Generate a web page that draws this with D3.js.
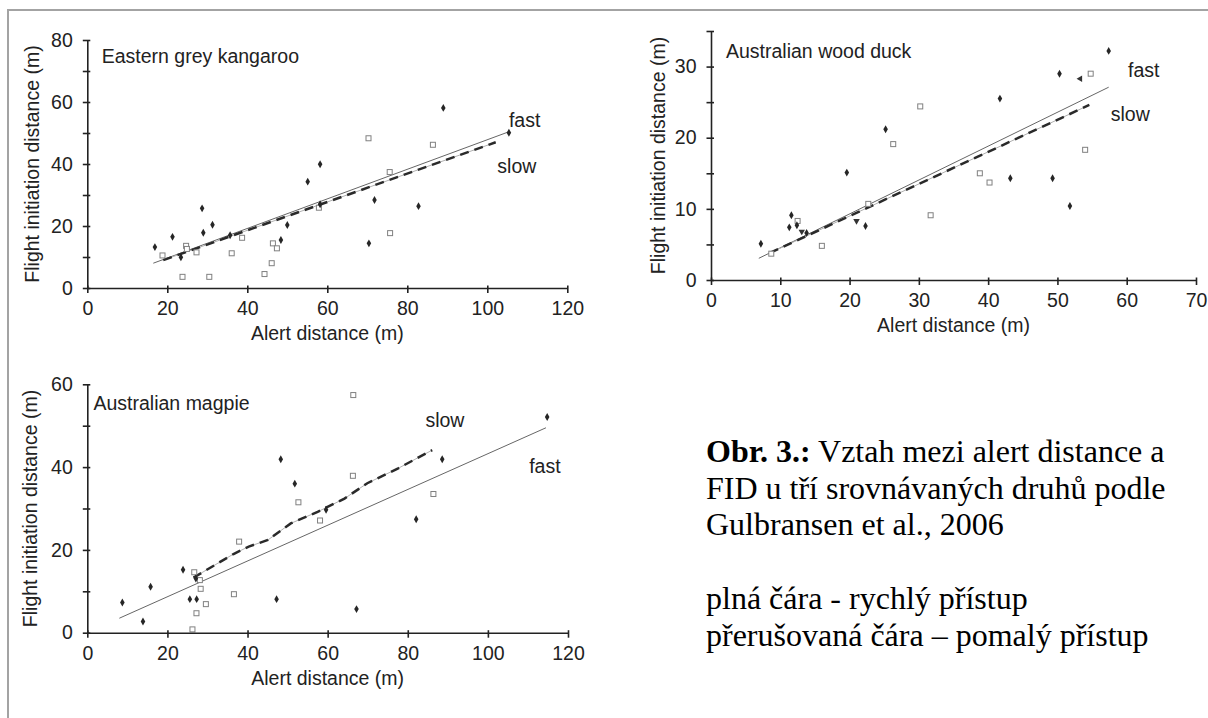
<!DOCTYPE html>
<html><head><meta charset="utf-8">
<script src="https://cdn.jsdelivr.net/npm/d3@7"></script>
<style>html,body{margin:0;padding:0;background:#fff;} svg{display:block;}</style>
</head><body>
<svg id="c" width="1208" height="718"></svg>
<script>
// ---------- DATA ----------
// Eastern grey kangaroo
const kangarooXTicks = [0, 20, 40, 60, 80, 100, 120];
const kangarooYTicks = [0, 20, 40, 60, 80];
const kangarooYMinor = [0, 10, 20, 30, 40, 50, 60, 70, 80];
const kangarooFast = [[16.9,13.2],[21.3,16.5],[23.4,9.9],[28.7,25.7],[29.0,17.8],[31.3,20.4],[35.7,17.0],[48.4,15.5],[50.0,20.3],[55.1,34.3],[58.2,39.9],[58.2,27.0],[70.4,14.4],[71.8,28.4],[82.8,26.4],[89.0,58.1],[105.4,50.1]];
const kangarooSlow = [[18.8,10.5],[23.8,3.6],[24.7,13.6],[24.9,12.6],[27.3,11.5],[30.5,3.6],[36.1,11.2],[38.7,16.2],[44.3,4.5],[46.1,8.0],[46.4,14.4],[47.4,12.8],[57.9,25.9],[70.3,48.3],[75.6,37.4],[75.7,17.7],[86.4,46.2]];
const kangarooFastLine = [[16.5,8.0],[105.4,50.4]];
const kangarooSlowLine = [[19.0,9.0],[102.1,47.0]];

// Australian wood duck
const duckXTicks = [0, 10, 20, 30, 40, 50, 60, 70];
const duckYTicks = [0, 10, 20, 30];
const duckYMinor = [0, 5, 10, 15, 20, 25, 30, 35];
const duckFast = [[7.2,5.1],[11.3,7.4],[11.6,9.1],[12.4,7.7],[13.8,6.6],[19.6,15.1],[22.3,7.6],[25.2,21.2],[41.7,25.5],[43.2,14.3],[49.3,14.3],[50.3,29.0],[51.8,10.4],[57.4,32.2]];
const duckTriangles = [[13.1,6.8],[21.0,8.3],[53.3,28.3]];
const duckSlow = [[8.7,3.7],[12.5,8.3],[16.0,4.8],[22.7,10.7],[26.3,19.1],[30.2,24.4],[31.7,9.1],[38.8,15.0],[40.2,13.7],[54.0,18.3],[54.8,29.0]];
const duckFastLine = [[6.9,3.05],[57.4,27.1]];
const duckSlowLine = [[8.5,3.8],[54.6,24.6]];

// Australian magpie
const magpieXTicks = [0, 20, 40, 60, 80, 100, 120];
const magpieYTicks = [0, 20, 40, 60];
const magpieYMinor = [0, 10, 20, 30, 40, 50, 60];
const magpieFast = [[8.75,7.3],[13.9,2.7],[15.8,11.1],[23.9,15.2],[25.6,8.1],[27.3,8.1],[27.1,13.1],[47.25,8.1],[48.3,41.9],[51.8,36.0],[59.6,29.7],[67.2,5.7],[82.1,27.4],[88.6,41.9],[114.8,52.1]];
const magpieSlow = [[26.25,0.8],[26.7,14.6],[27.25,4.7],[28.1,12.7],[28.3,10.6],[29.6,6.9],[36.6,9.3],[37.9,22.0],[52.7,31.5],[58.1,27.1],[66.3,37.9],[66.4,57.4],[86.4,33.5]];
const magpieFastLine = [[8.0,3.5],[114.5,49.5]];
const magpieSlowLine = [[26.5,13.3],[36.5,19.0],[40.3,20.8],[45.1,22.4],[50.8,26.4],[57.5,29.2],[64.2,32.4],[69.9,36.1],[77.6,39.7],[86.1,44.1]];

// Text
const xTitle = "Alert distance (m)";
const yTitle = "Flight initiation distance (m)";
const captionLines = [
  ["Obr. 3.:", " Vztah mezi alert distance a"],
  ["", "FID u tří srovnávaných druhů podle"],
  ["", "Gulbransen et al., 2006"],
  ["", ""],
  ["", "plná čára - rychlý přístup"],
  ["", "přerušovaná čára – pomalý přístup"]
];

// ---------- DRAW ----------
const svg = d3.select("#c");
const SANS = "'Liberation Sans', Arial, Helvetica, sans-serif";
const SERIF = "'Liberation Serif', 'Times New Roman', serif";

svg.append("rect").attr("width",1208).attr("height",718).attr("fill","#fff");
// frame (partially visible)
svg.append("path").attr("d","M8,718V10H1208").attr("fill","none").attr("stroke","#a3a3a3").attr("stroke-width",2);

const panels = [
  {name:"Eastern grey kangaroo", left:87.3, right:567.3, top:40, bottom:288, xMax:120, yMax:80,
   xTicks:kangarooXTicks, yTicks:kangarooYTicks, yMinor:kangarooYMinor,
   fast:kangarooFast, slow:kangarooSlow, tri:[], fastLine:kangarooFastLine, slowLine:kangarooSlowLine,
   titleX:101.7, titleY:62.7, yTitleX:32.5,
   labels:[{t:"fast",x:105.4,y:52.0},{t:"slow",x:102.5,y:37.0}]},
  {name:"Australian wood duck", left:711, right:1196, top:31, bottom:280, xMax:70, yMax:35,
   xTicks:duckXTicks, yTicks:duckYTicks, yMinor:duckYMinor,
   fast:duckFast, slow:duckSlow, tri:duckTriangles, fastLine:duckFastLine, slowLine:duckSlowLine,
   titleX:726, titleY:58.3, yTitleX:658,
   labels:[{t:"fast",x:60.2,y:28.6},{t:"slow",x:57.7,y:22.4}]},
  {name:"Australian magpie", left:87.3, right:568, top:384.3, bottom:632.7, xMax:120, yMax:60,
   xTicks:magpieXTicks, yTicks:magpieYTicks, yMinor:magpieYMinor,
   fast:magpieFast, slow:magpieSlow, tri:[], fastLine:magpieFastLine, slowLine:magpieSlowLine,
   titleX:93.5, titleY:410, yTitleX:30.6,
   labels:[{t:"slow",x:84.4,y:49.8},{t:"fast",x:110.3,y:38.6}]}
];

const FS = 19.5;
panels.forEach(p => {
  const x = d3.scaleLinear().domain([0,p.xMax]).range([p.left,p.right]);
  const y = d3.scaleLinear().domain([0,p.yMax]).range([p.bottom,p.top]);
  const g = svg.append("g");

  // fast (solid) line
  g.append("path").datum(p.fastLine)
    .attr("d", d3.line().x(d=>x(d[0])).y(d=>y(d[1])))
    .attr("fill","none").attr("stroke","#666").attr("stroke-width",1);
  // slow (dashed) line: thin light base + dark dashes
  g.append("path").datum(p.slowLine)
    .attr("d", d3.line().x(d=>x(d[0])).y(d=>y(d[1])))
    .attr("fill","none").attr("stroke","#b0b0b0").attr("stroke-width",1);
  g.append("path").datum(p.slowLine)
    .attr("d", d3.line().x(d=>x(d[0])).y(d=>y(d[1])))
    .attr("fill","none").attr("stroke","#2a2a2a").attr("stroke-width",2.5)
    .attr("stroke-dasharray","9,6");

  // open squares (slow)
  g.selectAll("rect.sq").data(p.slow).join("rect").attr("class","sq")
    .attr("x",d=>x(d[0])-2.5).attr("y",d=>y(d[1])-2.5)
    .attr("width",5).attr("height",5)
    .attr("fill","#fff").attr("stroke","#808080").attr("stroke-width",1);
  // filled markers (fast)
  g.selectAll("path.fd").data(p.fast).join("path").attr("class","fd")
    .attr("transform",d=>`translate(${x(d[0])},${y(d[1])})`)
    .attr("d", d3.symbol(d3.symbolDiamond, 18))
    .attr("fill","#262626");
  g.selectAll("path.tr").data(p.tri).join("path").attr("class","tr")
    .attr("transform",(d,i)=>`translate(${x(d[0])},${y(d[1])}) rotate(${i===2?-90:180})`)
    .attr("d", d3.symbol(d3.symbolTriangle, 18))
    .attr("fill","#333");

  // axes
  const ax = d3.axisBottom(x).tickValues(p.xTicks).tickSizeInner(5).tickSizeOuter(0).tickPadding(8);
  const gx = svg.append("g").attr("transform",`translate(0,${p.bottom})`).call(ax);
  gx.selectAll(".tick line").attr("y1",-2.5);
  const ay = d3.axisLeft(y).tickValues(p.yMinor).tickSizeInner(4.5).tickSizeOuter(0).tickPadding(10)
    .tickFormat(d => p.yTicks.includes(d) ? d : "");
  const gy = svg.append("g").attr("transform",`translate(${p.left},0)`).call(ay);
  gy.selectAll(".tick line").attr("x1",3);
  [gx,gy].forEach(a => {
    a.select(".domain").attr("stroke","#222").attr("stroke-width",1.6);
    a.selectAll(".tick line").attr("stroke","#222").attr("stroke-width",1.6);
    a.selectAll(".tick text").attr("font-family",SANS).attr("font-size",FS).attr("fill","#222");
  });

  // titles
  svg.append("text").attr("x",(p.left+p.right)/2).attr("y",p.bottom+52)
    .attr("text-anchor","middle").attr("font-family",SANS).attr("font-size",FS).attr("fill","#222").text(xTitle);
  svg.append("text").attr("transform",`translate(${p.yTitleX},${(p.top+p.bottom)/2}) rotate(-90)`)
    .attr("dy","0.35em").attr("text-anchor","middle").attr("font-family",SANS).attr("font-size",FS).attr("fill","#222").text(yTitle);
  svg.append("text").attr("x",p.titleX).attr("y",p.titleY)
    .attr("font-family",SANS).attr("font-size",FS).attr("fill","#222").text(p.name);
  p.labels.forEach(l => {
    svg.append("text").attr("x",x(l.x)).attr("y",y(l.y))
      .attr("font-family",SANS).attr("font-size",FS).attr("fill","#222").text(l.t);
  });
});

// caption
const capY = [462, 499, 535, 572, 609, 646];
captionLines.forEach((ln,i) => {
  if (!ln[0] && !ln[1]) return;
  const t = svg.append("text").attr("x",706).attr("y",capY[i])
    .attr("font-family",SERIF).attr("font-size",32).attr("fill","#000");
  if (ln[0]) t.append("tspan").attr("font-weight","bold").text(ln[0]);
  t.append("tspan").text(ln[1]);
});
</script>
</body></html>
